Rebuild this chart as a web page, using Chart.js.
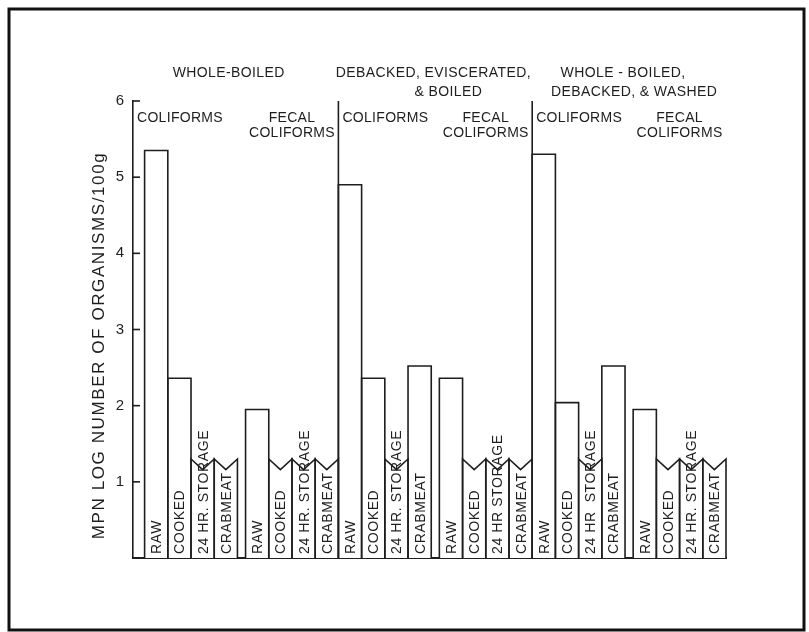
<!DOCTYPE html>
<html>
<head>
<meta charset="utf-8">
<script src="https://cdn.jsdelivr.net/npm/chart.js@4.4.0/dist/chart.umd.min.js"></script>
<style>
  html, body { margin: 0; padding: 0; background: #fff; }
  #wrap { width: 809px; height: 632px; }
</style>
</head>
<body>
<div id="wrap"><canvas id="c" width="809" height="632"></canvas></div>
<script>
// Processing treatments (headings above each block)
const treatments = [
  ['WHOLE-BOILED'],
  ['DEBACKED, EVISCERATED,', '& BOILED'],
  ['WHOLE - BOILED,', 'DEBACKED, & WASHED']
];
// Organism groups within each treatment
const organisms = [['COLIFORMS'], ['FECAL', 'COLIFORMS']];
// Sampling stages, lettered inside the bars of each panel
const stageLabels = [
  ['RAW', 'COOKED', '24 HR. STORAGE', 'CRABMEAT'],
  ['RAW', 'COOKED', '24 HR. STORAGE', 'CRABMEAT'],
  ['RAW', 'COOKED', '24 HR. STORAGE', 'CRABMEAT'],
  ['RAW', 'COOKED', '24 HR STORAGE', 'CRABMEAT'],
  ['RAW', 'COOKED', '24 HR  STORAGE', 'CRABMEAT'],
  ['RAW', 'COOKED', '24 HR. STORAGE', 'CRABMEAT']
];
// MPN log number of organisms / 100 g; null = below the detection limit
const DETECTION_LIMIT = 1.3; // log10(20)
const coliformLog = [
  [5.35, 2.36, null, null],
  [4.9, 2.36, null, 2.52],
  [5.3, 2.04, null, 2.52]
];
const fecalLog = [
  [1.95, null, null, null],
  [2.36, null, null, null],
  [1.95, null, null, null]
];
const yTicks = [1, 2, 3, 4, 5, 6];

const INK = '#1e1e1e';
const FONT = '"Liberation Sans", Arial, sans-serif';
const NOTCH = 0.14;      // depth of the "less than" notch, in log units
const PANEL_GAP = 0.35;  // space between coliform and fecal panels, in bar widths
const LEAD = 0.5;        // space between the y axis and the first bar

// Build bar positions (in bar widths) from the panel structure
const points = [], below = [], barText = [], panels = [];
let cursor = LEAD;
treatments.forEach((t, ti) => {
  [coliformLog, fecalLog].forEach((series, k) => {
    const p = ti * 2 + k;
    const vals = series[ti];
    const start = cursor;
    vals.forEach((v, j) => {
      points.push({ x: start + j + 0.5, y: v === null ? DETECTION_LIMIT : v });
      below.push(v === null);
      barText.push(stageLabels[p][j]);
    });
    panels.push({ start, end: start + vals.length, kind: k });
    cursor = start + vals.length + (k === 0 ? PANEL_GAP : 0);
  });
});
const xEnd = cursor;

// Small horizontal nudges (px) for the treatment headings
const headingNudge = [[-7], [-2, 13], [-6, 5]];

const sketch = {
  id: 'sketch',
  afterDatasetsDraw(chart) {
    const { ctx, chartArea: area, scales: { x, y } } = chart;
    const meta = chart.getDatasetMeta(0);
    ctx.save();
    ctx.strokeStyle = INK;
    ctx.fillStyle = INK;
    ctx.lineWidth = 1.6;
    ctx.lineJoin = 'miter';

    // bar outlines (notched top where the count is below the limit)
    const notchY = y.getPixelForValue(DETECTION_LIMIT - NOTCH);
    meta.data.forEach((el, i) => {
      const { x: cx, y: top, base, width } = el.getProps(['x', 'y', 'base', 'width'], true);
      const l = cx - width / 2, r = cx + width / 2;
      ctx.beginPath();
      ctx.moveTo(l, base);
      ctx.lineTo(l, top);
      if (below[i]) ctx.lineTo(cx, notchY);
      ctx.lineTo(r, top);
      ctx.lineTo(r, base);
      ctx.stroke();
    });

    // block dividers between treatments
    for (let ti = 1; ti < treatments.length; ti++) {
      const px = x.getPixelForValue(panels[ti * 2].start);
      ctx.beginPath();
      ctx.moveTo(px, area.top);
      ctx.lineTo(px, area.bottom);
      ctx.stroke();
    }

    // inward tick marks on the y axis
    y.ticks.forEach(t => {
      const py = y.getPixelForValue(t.value);
      ctx.beginPath();
      ctx.moveTo(area.left, py);
      ctx.lineTo(area.left + 7, py);
      ctx.stroke();
    });

    // stage names written up the bars
    ctx.font = '14px ' + FONT;
    ctx.letterSpacing = '0.6px';
    ctx.textAlign = 'left';
    ctx.textBaseline = 'alphabetic';
    meta.data.forEach((el, i) => {
      const { x: cx, base } = el.getProps(['x', 'base'], true);
      ctx.save();
      ctx.translate(cx, base - 4);
      ctx.rotate(-Math.PI / 2);
      ctx.fillText(barText[i], 0, 5);
      ctx.restore();
    });

    // organism group labels
    ctx.letterSpacing = '0.3px';
    ctx.textBaseline = 'middle';
    panels.forEach((pn, p) => {
      const lines = organisms[pn.kind];
      if (pn.kind === 0) {
        const blockStart = p === 0 ? area.left : x.getPixelForValue(pn.start);
        ctx.textAlign = 'left';
        lines.forEach((s, li) => ctx.fillText(s, blockStart + 4, area.top + 17 + li * 15));
      } else {
        const c = (x.getPixelForValue(pn.start) + x.getPixelForValue(pn.end)) / 2;
        ctx.textAlign = 'center';
        lines.forEach((s, li) => ctx.fillText(s, c, area.top + 17 + li * 15));
      }
    });

    // treatment headings
    ctx.letterSpacing = '0.4px';
    ctx.textAlign = 'center';
    treatments.forEach((lines, ti) => {
      const a = ti === 0 ? area.left : x.getPixelForValue(panels[ti * 2].start);
      const b = x.getPixelForValue(panels[ti * 2 + 1].end);
      const c = (a + b) / 2;
      lines.forEach((s, li) => ctx.fillText(s, c + headingNudge[ti][li], area.top - 28 + li * 19));
    });

    // y axis title
    ctx.font = '17px ' + FONT;
    ctx.letterSpacing = '1.6px';
    ctx.save();
    ctx.translate(area.left - 34, (area.top + area.bottom) / 2 + 16);
    ctx.rotate(-Math.PI / 2);
    ctx.textAlign = 'center';
    ctx.fillText('MPN LOG NUMBER OF ORGANISMS/100g', 0, 0);
    ctx.restore();

    // figure frame
    ctx.lineWidth = 3;
    ctx.strokeStyle = '#111';
    ctx.strokeRect(9, 9, 795, 621);
    ctx.restore();
  }
};

new Chart(document.getElementById('c'), {
  type: 'bar',
  data: {
    datasets: [{
      data: points,
      backgroundColor: '#ffffff',
      borderWidth: 0,
      barPercentage: 1,
      categoryPercentage: 1
    }]
  },
  options: {
    responsive: false,
    animation: false,
    layout: { padding: { top: 101, left: 83, right: 83, bottom: 0 } },
    plugins: { legend: { display: false }, tooltip: { enabled: false } },
    scales: {
      x: {
        type: 'linear',
        min: 0,
        max: xEnd,
        offset: false,
        ticks: { display: false, stepSize: 1 },
        grid: { display: false, drawTicks: false },
        border: { display: true, color: INK, width: 2 },
        afterFit: s => { s.height = 74; }
      },
      y: {
        min: 0,
        max: 6,
        afterBuildTicks: s => { s.ticks = yTicks.map(v => ({ value: v })); },
        ticks: { font: { family: FONT, size: 15 }, color: INK, padding: 9 },
        grid: { display: false, drawTicks: false },
        border: { display: true, color: INK, width: 1.6 },
        afterFit: s => { s.width = 50; }
      }
    }
  },
  plugins: [sketch]
});
</script>
</body>
</html>
